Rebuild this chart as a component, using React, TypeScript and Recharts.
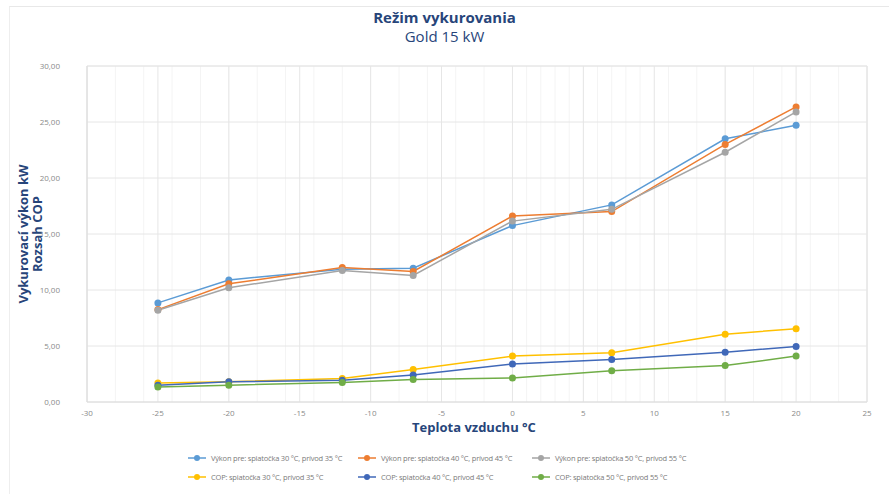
import React from 'react';
import { LineChart, Line, XAxis, YAxis, CartesianGrid, ReferenceLine } from 'recharts';

// outdoor air temperature (°C)
const temps = [-25, -20, -12, -7, 0, 7, 15, 20];

// heating output kW
const vykon30_35 = [8.85, 10.9, 11.85, 11.95, 15.75, 17.6, 23.5, 24.7];
const vykon40_45 = [8.25, 10.55, 12.0, 11.65, 16.6, 17.0, 23.0, 26.35];
const vykon50_55 = [8.2, 10.2, 11.75, 11.3, 16.15, 17.2, 22.3, 25.9];

// COP
const cop30_35 = [1.7, 1.8, 2.1, 2.9, 4.1, 4.4, 6.05, 6.55];
const cop40_45 = [1.5, 1.8, 1.95, 2.4, 3.4, 3.8, 4.45, 4.95];
const cop50_55 = [1.35, 1.5, 1.75, 2.0, 2.15, 2.8, 3.25, 4.1];

const xTicks = [-30, -25, -20, -15, -10, -5, 0, 5, 10, 15, 20, 25];
const yTicks = [0, 5, 10, 15, 20, 25, 30];

const series = [
  { key: 'v1', label: 'Výkon pre: spiatočka 30 °C, prívod 35 °C', color: '#5b9bd5', values: vykon30_35 },
  { key: 'v2', label: 'Výkon pre: spiatočka 40 °C, prívod 45 °C', color: '#ed7d31', values: vykon40_45 },
  { key: 'v3', label: 'Výkon pre: spiatočka 50 °C, prívod 55 °C', color: '#a5a5a5', values: vykon50_55 },
  { key: 'c1', label: 'COP: spiatočka 30 °C, prívod 35 °C', color: '#ffc000', values: cop30_35 },
  { key: 'c2', label: 'COP: spiatočka 40 °C, prívod 45 °C', color: '#4068b8', values: cop40_45 },
  { key: 'c3', label: 'COP: spiatočka 50 °C, prívod 55 °C', color: '#70ad47', values: cop50_55 },
];

const rows = temps.map((t, i) => {
  const r: Record<string, number> = { t };
  series.forEach((s) => { r[s.key] = s.values[i]; });
  return r;
});

const minorX = Array.from({ length: 56 }, (_, i) => -30 + i);

const navy = '#27457a';
const font = '"Open Sans", "DejaVu Sans", sans-serif';

const legendCols = [188, 358, 532];
const legendRows = [458, 477];

const App: React.FC = () => {
  return (
    <div style={{ position: 'absolute', left: 0, top: 0, width: 889, height: 494, background: '#fff', fontFamily: font, overflow: 'hidden' }}>
      {/* faint frame */}
      <div style={{ position: 'absolute', left: 9, top: 6, width: 900, height: 500, borderTop: '1px solid #e8e8e8', borderLeft: '1px solid #eeeeee' }} />

      <div style={{ position: 'absolute', left: 0, width: 889, top: 8, textAlign: 'center', color: navy, lineHeight: '19px' }}>
        <div style={{ fontSize: 15, fontWeight: 700 }}>Režim vykurovania</div>
        <div style={{ fontSize: 15, fontWeight: 400 }}>Gold 15 kW</div>
      </div>

      <div style={{ position: 'absolute', left: 30, top: 234, transform: 'translate(-50%, -50%) rotate(-90deg)', textAlign: 'center', color: navy, fontSize: 13, fontWeight: 700, lineHeight: '14px', whiteSpace: 'nowrap' }}>
        <div>Vykurovací výkon kW</div>
        <div>Rozsah COP</div>
      </div>

      <div style={{ position: 'absolute', left: 474, top: 427, transform: 'translate(-50%, -50%)', color: navy, fontSize: 13, fontWeight: 700, whiteSpace: 'nowrap', lineHeight: '14px' }}>
        Teplota vzduchu °C
      </div>

      <div style={{ position: 'absolute', left: 0, top: 0 }}>
        <LineChart width={889} height={494} data={rows} margin={{ top: 66, right: 22, bottom: 72, left: 20 }}>
          <CartesianGrid stroke="#f4f4f4" horizontal={false} verticalValues={minorX} />
          <CartesianGrid stroke="#e6e6e6" verticalValues={xTicks} horizontalValues={yTicks} />
          <XAxis
            dataKey="t"
            type="number"
            domain={[-30, 25]}
            ticks={xTicks}
            height={20}
            tickLine={false}
            axisLine={{ stroke: '#dcdcdc' }}
            tick={{ fontSize: 8, fill: '#8a8a8a', fontFamily: font }}
            tickMargin={2}
          />
          <YAxis
            type="number"
            domain={[0, 30]}
            ticks={yTicks}
            width={67}
            tickLine={false}
            axisLine={{ stroke: '#dcdcdc' }}
            tick={{ fontSize: 8, fill: '#8a8a8a', fontFamily: font }}
            tickMargin={21}
            tickFormatter={(v: number) => v.toFixed(2).replace('.', ',')}
          />
          <ReferenceLine y={30} stroke="#e6e6e6" />
          <ReferenceLine x={25} stroke="#e6e6e6" />
          {series.map((s) => (
            <Line
              key={s.key}
              dataKey={s.key}
              stroke={s.color}
              strokeWidth={1.5}
              dot={{ r: 3.5, fill: s.color, stroke: s.color, strokeWidth: 0 }}
              activeDot={false}
              isAnimationActive={false}
            />
          ))}
        </LineChart>
      </div>

      {series.map((s, i) => {
        const x = legendCols[i % 3];
        const y = legendRows[Math.floor(i / 3)];
        return (
          <div key={s.key} style={{ position: 'absolute', left: x, top: y - 6, height: 12, display: 'flex', alignItems: 'center', whiteSpace: 'nowrap' }}>
            <svg width={18} height={12} style={{ marginRight: 5 }}>
              <line x1={0} y1={6} x2={18} y2={6} stroke={s.color} strokeWidth={1.5} />
              <circle cx={9} cy={6} r={3} fill={s.color} />
            </svg>
            <span style={{ fontSize: 7.5, color: '#7a7a7a', letterSpacing: -0.2 }}>{s.label}</span>
          </div>
        );
      })}
    </div>
  );
};

export default App;
